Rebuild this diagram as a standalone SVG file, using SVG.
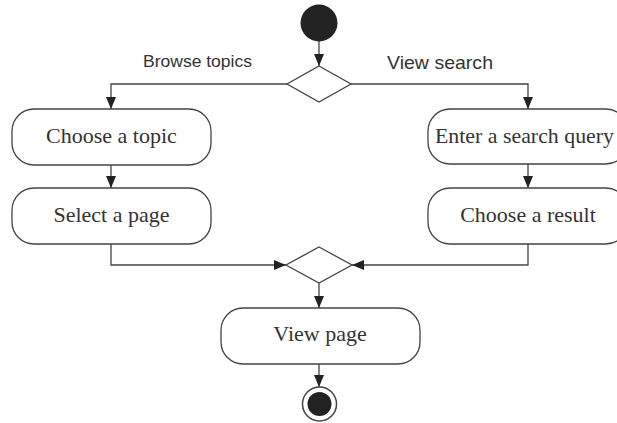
<svg xmlns="http://www.w3.org/2000/svg" width="617" height="423" viewBox="0 0 617 423">
<style>
.box{fill:#fff;stroke:#444;stroke-width:1.3}
.dia{fill:#fff;stroke:#444;stroke-width:1.3}
.ln{fill:none;stroke:#444;stroke-width:1.3}
.t{font-family:"Liberation Serif",serif;font-size:22px;fill:#333;text-anchor:middle}
.s{font-family:"Liberation Sans",Arial,sans-serif;fill:#333}
</style>
<defs>
<marker id="ar" markerWidth="12" markerHeight="12" viewBox="0 0 12 12" refX="12" refY="6" orient="auto" markerUnits="userSpaceOnUse">
<path d="M0,1 L12,6 L0,11 Z" fill="#222"/>
</marker>
</defs>
<rect width="617" height="423" fill="#fff"/>
<g id="connectors">
<line class="ln" x1="319" y1="41" x2="319" y2="66" marker-end="url(#ar)"/>
<polyline class="ln" points="287,84 111,84 111,109" marker-end="url(#ar)"/>
<polyline class="ln" points="351,84 528,84 528,109" marker-end="url(#ar)"/>
<line class="ln" x1="111" y1="165" x2="111" y2="188" marker-end="url(#ar)"/>
<line class="ln" x1="528" y1="164" x2="528" y2="188" marker-end="url(#ar)"/>
<polyline class="ln" points="111,244 111,265 286,265" marker-end="url(#ar)"/>
<polyline class="ln" points="528,244 528,265 352,265" marker-end="url(#ar)"/>
<line class="ln" x1="319" y1="283" x2="319" y2="308" marker-end="url(#ar)"/>
<line class="ln" x1="319" y1="364" x2="319" y2="387" marker-end="url(#ar)"/>
</g>
<g id="labels">
<text class="s" x="143" y="67" font-size="17" textLength="109" lengthAdjust="spacingAndGlyphs">Browse topics</text>
<text class="s" x="387" y="69" font-size="19" textLength="106" lengthAdjust="spacingAndGlyphs">View search</text>
</g>
<g id="start"><circle cx="319" cy="23" r="18.5" fill="#222"/></g>
<g id="decision"><polygon class="dia" points="319,66 351,84 319,102 287,84"/></g>
<g id="choose-topic"><rect class="box" x="12" y="109" width="199" height="56" rx="22"/><text class="t" x="111.5" y="143">Choose a topic</text></g>
<g id="select-page"><rect class="box" x="12" y="188" width="199" height="56" rx="22"/><text class="t" x="111.5" y="222">Select a page</text></g>
<g id="enter-query"><rect class="box" x="428" y="109" width="200" height="55" rx="22"/><text class="t" x="435" y="143" style="text-anchor:start" textLength="179" lengthAdjust="spacingAndGlyphs">Enter a search query</text></g>
<g id="choose-result"><rect class="box" x="428" y="188" width="200" height="56" rx="22"/><text class="t" x="528" y="222">Choose a result</text></g>
<g id="merge"><polygon class="dia" points="319,247 352,265 319,283 286,265"/></g>
<g id="view-page"><rect class="box" x="221" y="308" width="199" height="56" rx="22"/><text class="t" x="320" y="341">View page</text></g>
<g id="end"><circle cx="319.5" cy="404" r="17" fill="#fff" stroke="#444" stroke-width="1.5"/><circle cx="319.5" cy="404" r="12" fill="#222"/></g>
</svg>
